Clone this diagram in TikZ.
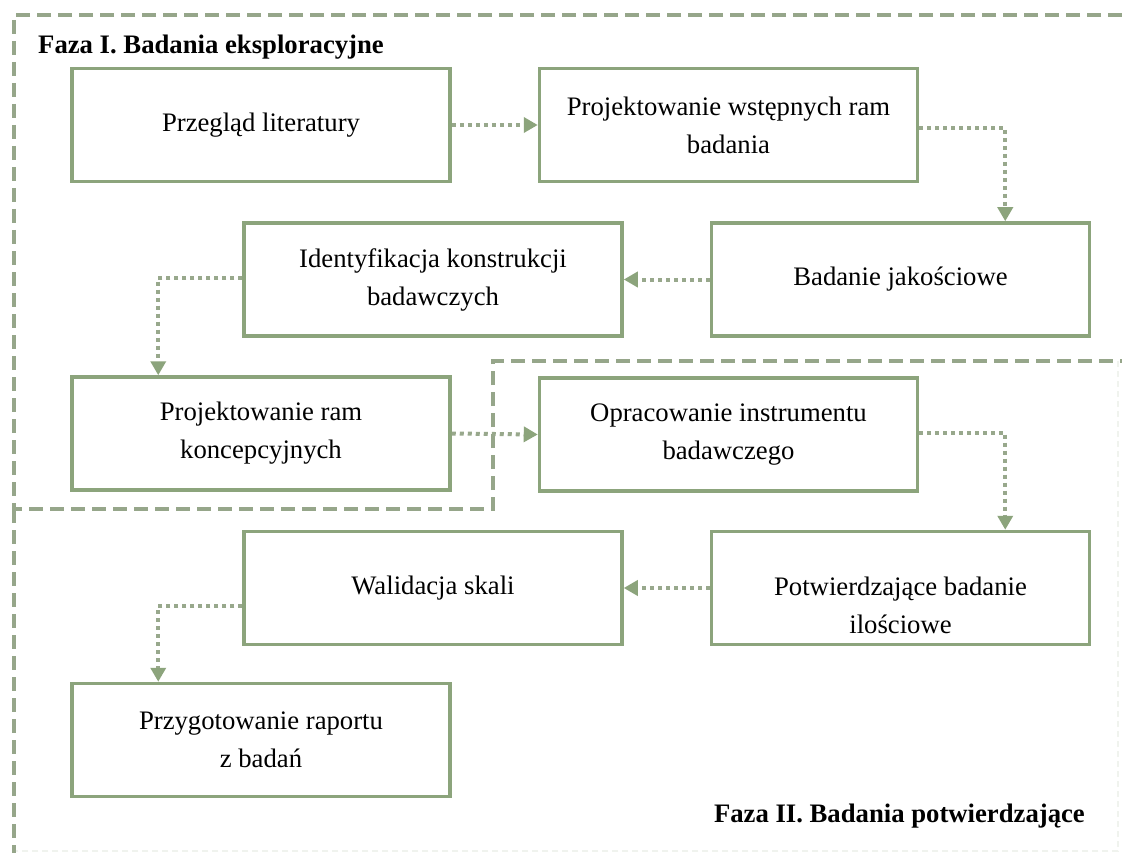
\documentclass[tikz,border=0pt]{standalone}
\usepackage{fontspec}
\setmainfont{Liberation Serif}
\usetikzlibrary{arrows.meta}
\definecolor{boxgreen}{RGB}{140,164,124}
\definecolor{flowgreen}{RGB}{152,168,140}
\definecolor{framegreen}{RGB}{150,166,138}
\definecolor{faintframe}{RGB}{240,243,238}
\tikzset{
  stepbox/.style={draw=boxgreen, line width=3.5pt, fill=white,
    minimum width=378pt, minimum height=113pt, inner sep=0pt,
    align=center, font=\fontsize{26.7}{38}\selectfont},
  boxtext/.style={align=center, inner sep=0pt, font=\fontsize{26.7}{38}\selectfont},
  flow/.style={draw=flowgreen, line width=4pt, dash pattern=on 4pt off 4pt,
    -{Triangle[length=14pt,width=15pt,color=boxgreen,fill=boxgreen]}},
  phaseframe/.style={draw=framegreen, line width=4pt, dash pattern=on 14pt off 7pt},
  faintline/.style={draw=faintframe, line width=2pt, dash pattern=on 6pt off 4pt},
  phasetitle/.style={inner sep=0pt, font=\fontsize{26.7}{32}\selectfont\bfseries}
}
\begin{document}
\begin{tikzpicture}[x=1pt, y=-1pt]
  \useasboundingbox (0,0) rectangle (1122,853);
  \fill[white] (0,0) rectangle (1122,853);

  % phase frames
  \draw[faintline] (1118,361) -- (1118,851) -- (14,851);
  \draw[phaseframe] (1122,15) -- (14,15) -- (14,509) -- (493,509) -- (493,361) -- (1122,361);
  \draw[phaseframe] (14,509) -- (14,853);

  % phase titles
  \node[phasetitle, anchor=west] (fazaI) at (38,47) {Faza I. Badania eksploracyjne};
  \node[phasetitle, anchor=east] (fazaII) at (1085,816) {Faza II. Badania potwierdzające};

  % process steps
  \node[stepbox] (b1) at (261,125) {Przegląd literatury};
  \node[stepbox] (b2) at (728.5,125) {Projektowanie wstępnych ram\\badania};
  \node[stepbox] (b3) at (900.5,279.5) {Badanie jakościowe};
  \node[stepbox] (b4) at (433,279.5) {Identyfikacja konstrukcji\\badawczych};
  \node[stepbox] (b5) at (261,433.5) {Projektowanie ram\\koncepcyjnych};
  \node[stepbox] (b6) at (728.5,434.5) {Opracowanie instrumentu\\badawczego};
  \node[stepbox] (b7) at (433,588) {Walidacja skali};
  \node[stepbox] (b8) at (900.5,588) {};
  \node[boxtext] (t8) at (900.5,605) {Potwierdzające badanie\\ilościowe};
  \node[stepbox] (b9) at (261,740) {Przygotowanie raportu\\z badań};

  % connectors
  \draw[flow] (b1.east) -- (b2.west);
  \draw[flow] ([yshift=-3pt]b2.east) -| ([xshift=-86pt]b3.north east);
  \draw[flow] (b3.west) -- (b4.east);
  \draw[flow] ([yshift=2pt]b4.west) -| ([xshift=88pt]b5.north west);
  \draw[flow] (b5.east) -- (b6.west);
  \draw[flow] ([yshift=2pt]b6.east) -| ([xshift=-86pt]b8.north east);
  \draw[flow] (b8.west) -- (b7.east);
  \draw[flow] ([yshift=-18pt]b7.west) -| ([xshift=88pt]b9.north west);
\end{tikzpicture}
\end{document}
